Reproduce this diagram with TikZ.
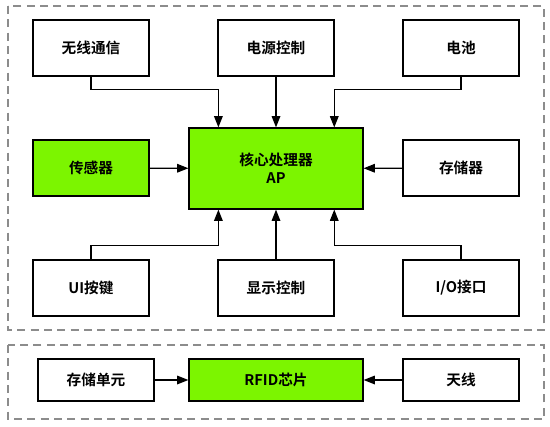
\documentclass[tikz,border=0pt]{standalone}
\usepackage{fontspec}
\setmainfont{Noto Sans CJK SC}[BoldFont={Noto Sans CJK SC Bold}]
\usetikzlibrary{arrows.meta}
\definecolor{chipgreen}{RGB}{124,245,0}
\definecolor{framegray}{RGB}{140,140,140}

\begin{document}
\begin{tikzpicture}[x=0.75pt, y=-0.75pt, line width=0.9pt,
	font=\bfseries\fontsize{11}{13.5}\selectfont,
	blk/.style={draw, minimum width=87pt, minimum height=42pt, inner sep=0pt},
	low/.style={blk, minimum height=31.5pt},
	hot/.style={fill=chipgreen},
	arr/.style={-{Triangle[length=8.5pt, width=6.5pt]}},
	frame/.style={draw=framegray, line width=0.8pt, dash pattern=on 6pt off 4pt}]
	\useasboundingbox (0,0) rectangle (550,426);
	% dashed frames
	\draw[frame] (8,6) rectangle (544,330);
	\draw[frame] (8,345) rectangle (544,419);
	% top part
	\node[blk] (wireless) at (91,48) {无线通信};
	\node[blk] (power) at (276,48) {电源控制};
	\node[blk] (battery) at (461,48) {电池};
	\node[blk, hot] (sensor) at (91,168) {传感器};
	\node[blk, hot, minimum width=130.5pt, minimum height=60.75pt, align=center]
		(core) at (276,168.5) {核心处理器\\AP};
	\node[blk] (storage) at (461,168) {存储器};
	\node[blk] (keys) at (91,288) {UI按键};
	\node[blk] (display) at (276,288) {显示控制};
	\node[blk] (io) at (461,288) {I/O接口};
	\draw[arr] (wireless.south) -- ++(0,13) -| ([xshift=22.5pt]core.north west);
	\draw[arr] (power) -- (core);
	\draw[arr] (battery.south) -- ++(0,13) -| ([xshift=-22pt]core.north east);
	\draw[arr] (sensor) -- (core);
	\draw[arr] (storage) -- (core);
	\draw[arr] (keys.north) -- ++(0,-14) -| ([xshift=22.5pt]core.south west);
	\draw[arr] (display) -- (core);
	\draw[arr] (io.north) -- ++(0,-14) -| ([xshift=-22pt]core.south east);
	% RFID part
	\node[low] (cell) at (96,380) {存储单元};
	\node[low, hot, minimum width=130.5pt] (rfid) at (276,380) {RFID芯片};
	\node[low] (antenna) at (461,380) {天线};
	\draw[arr] (cell) -- (rfid);
	\draw[arr] (antenna) -- (rfid);
\end{tikzpicture}
\end{document}
